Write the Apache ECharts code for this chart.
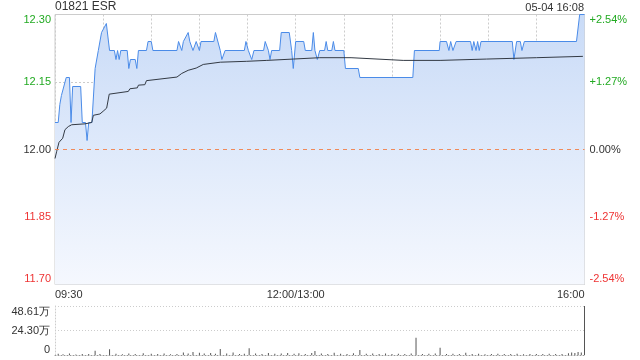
<!DOCTYPE html>
<html><head><meta charset="utf-8">
<script src="https://cdn.jsdelivr.net/npm/echarts@6/dist/echarts.min.js"></script>
<style>html,body{margin:0;padding:0;background:#fff}#c{width:640px;height:360px}</style>
</head><body><div id="c"></div>
<script>
// ---- data ----
const titleText = '01821 ESR';
const dateText = '05-04 16:08';
const timeLabelMinutes = [0, 150, 330];
const timeLabels = ['09:30', '12:00/13:00', '16:00'];
const priceTickLabels = ['11.70', '11.85', '12.00', '12.15', '12.30'];
const pctTickLabels = ['-2.54%', '-1.27%', '0.00%', '+1.27%', '+2.54%'];
const volTickLabels = ['0', '24.30万', '48.61万'];
const prevClose = 12.00;

const priceMinutes = [0,2,3,4,5,7,9,10,11,16,17,19,20,21,23,25,26,27,29,30,32,34,37,38,39,40,41,45,46,47,50,51,52,57,58,60,61,76,77,79,80,83,84,86,88,90,91,99,100,103,104,106,118,119,120.5,122.6,124,130,131,133,134,135,140,141,146,147.5,148.5,150,155,156,160,161,162,163.5,165,168,169,170,172.5,173.5,174.5,180,181,189,190,223,224,239.5,240,244,245.5,246.6,248,250,259,260,261,262.4,263.4,264.4,265.5,285,286,287.7,290,291,292.5,325,327,330];
const prices = [12.06,12.06,12.10,12.12,12.12,12.16,12.16,12.06,12.14,12.14,12.06,12.06,12.02,12.06,12.06,12.18,12.18,12.22,12.26,12.26,12.28,12.22,12.22,12.20,12.22,12.20,12.22,12.22,12.18,12.20,12.20,12.18,12.22,12.22,12.24,12.24,12.22,12.22,12.24,12.22,12.24,12.26,12.24,12.22,12.24,12.22,12.24,12.24,12.26,12.22,12.20,12.22,12.22,12.24,12.22,12.20,12.22,12.22,12.24,12.22,12.20,12.22,12.22,12.26,12.26,12.22,12.18,12.24,12.24,12.22,12.22,12.26,12.22,12.20,12.22,12.22,12.24,12.22,12.22,12.24,12.22,12.22,12.18,12.18,12.16,12.16,12.22,12.22,12.24,12.24,12.22,12.24,12.22,12.24,12.24,12.22,12.24,12.22,12.24,12.22,12.24,12.24,12.20,12.24,12.24,12.22,12.24,12.24,12.30,12.30];

const avgMinutes = [0,1,2.5,4.8,6.2,8.3,10.4,18.7,22.9,23.9,28,30,32.2,33.8,45.7,46.7,51.3,52,56,57,76,79,83,88,92.4,103,119.5,132,148.5,165,184.5,217,240,269,300,329];
const avgPrices = [11.98,11.995,12.016,12.025,12.044,12.051,12.055,12.057,12.06,12.076,12.079,12.085,12.092,12.123,12.129,12.135,12.137,12.143,12.144,12.153,12.161,12.169,12.176,12.181,12.189,12.194,12.196,12.198,12.201,12.204,12.204,12.198,12.198,12.201,12.204,12.207];

const volMinutes = [2,5,9,13,17,21,25,28,34,38,42,46,50,55,60,64,68,72,76,80,83,86,90,93,97,100,103,107,111,115,118,121,125,129,133,137,141,145,149,152,156,160,162,166,170,174,178,182,186,190,194,198,202,206,210,214,218,222,225,229,233,237,240,244,248,252,256,260,264,268,272,276,280,284,288,292,296,300,304,308,312,316,320,322,324,326,328,330];
const volumes = [1.2,0.8,1.5,0.6,1.0,0.9,4.3,1.1,5.7,1.3,0.8,1.6,1.0,1.8,1.2,0.9,1.4,0.7,1.1,2.4,1.5,3.0,2.2,1.4,2.0,1.2,6.0,1.5,2.4,1.0,1.2,6.6,1.4,1.0,2.1,1.3,1.6,2.0,1.2,1.8,1.0,2.0,4.0,1.5,1.0,2.2,1.3,1.1,1.7,5.0,1.2,1.6,1.0,1.4,0.9,1.2,1.0,1.5,17.2,1.0,1.2,1.6,7.2,1.0,1.3,0.9,2.2,1.0,1.3,0.8,1.1,1.2,0.9,1.0,1.3,0.8,1.1,1.0,0.9,1.2,1.0,1.1,1.8,2.6,2.0,3.0,2.4,48.61];

// ---- chart ----
const GREEN = '#22aa22', RED = '#ee3333', DARK = '#333';
const FONT = 'Liberation Sans, Arial, sans-serif';
function tickColor(i) { return i > 2 ? GREEN : (i < 2 ? RED : DARK); }

const chart = echarts.init(document.getElementById('c'), null, {renderer: 'canvas'});
chart.setOption({
  animation: false,
  textStyle: {fontFamily: FONT},
  title: [
    {text: titleText, left: 55, top: 1, padding: 0, textStyle: {fontSize: 12, fontWeight: 'normal', color: DARK, fontFamily: FONT}},
    {text: dateText, right: 56, top: 2, padding: 0, textStyle: {fontSize: 11, fontWeight: 'normal', color: DARK, fontFamily: FONT}}
  ],
  graphic: [{type: 'text', right: 66, top: 273, style: {text: 'sina.com', fill: '#c8c8c8', font: '11px ' + FONT}}],
  grid: [
    {left: 55, right: 55.5, top: 14.5, height: 270, show: true, borderColor: '#cccccc', borderWidth: 1, backgroundColor: 'transparent'},
    {left: 55, right: 55.5, top: 306, height: 49}
  ],
  xAxis: [
    {type: 'value', gridIndex: 0, min: 0, max: 330, interval: 30,
     axisLine: {show: false}, axisTick: {show: false},
     splitLine: {show: true, lineStyle: {color: '#cccccc', type: [2, 2]}},
     axisLabel: {show: true, margin: 5, fontSize: 11, color: DARK, fontFamily: FONT,
       alignMinLabel: 'left', alignMaxLabel: 'right', showMinLabel: true, showMaxLabel: true,
       formatter: function (v) { const k = timeLabelMinutes.indexOf(v); return k >= 0 ? timeLabels[k] : ''; }}},
    {type: 'value', gridIndex: 1, min: 0, max: 330,
     axisLine: {show: true, lineStyle: {color: '#999', type: [1, 2]}}, axisTick: {show: false},
     splitLine: {show: false}, axisLabel: {show: false}}
  ],
  yAxis: [
    {type: 'value', gridIndex: 0, min: 11.7, max: 12.3, interval: 0.15, position: 'left',
     axisLine: {show: false}, axisTick: {show: false},
     splitLine: {show: true, lineStyle: {color: ['#cccccc', '#cccccc', 'rgba(0,0,0,0)', '#cccccc', '#cccccc'], type: [2, 2]}},
     axisLabel: {margin: 4, fontSize: 11, fontFamily: FONT,
       verticalAlignMinLabel: 'bottom', verticalAlignMaxLabel: 'top',
       formatter: function (v, i) { return priceTickLabels[i]; },
       color: function (v, i) { return tickColor(i); }}},
    {type: 'value', gridIndex: 0, min: -2.54, max: 2.54, interval: 1.27, position: 'right',
     axisLine: {show: false}, axisTick: {show: false}, splitLine: {show: false},
     axisLabel: {margin: 5, fontSize: 11, fontFamily: FONT,
       verticalAlignMinLabel: 'bottom', verticalAlignMaxLabel: 'top',
       formatter: function (v, i) { return pctTickLabels[i]; },
       color: function (v, i) { return tickColor(i); }}},
    {type: 'value', gridIndex: 1, min: 0, max: 48.61, interval: 24.305,
     axisLine: {show: true, lineStyle: {color: '#cccccc', type: [1, 2]}}, axisTick: {show: false},
     splitLine: {show: true, lineStyle: {color: '#cccccc', type: [1, 2]}},
     axisLabel: {margin: 5, fontSize: 11, color: DARK, fontFamily: FONT,
       verticalAlignMinLabel: 'bottom', verticalAlignMaxLabel: 'top',
       formatter: function (v, i) { return volTickLabels[i]; }}}
  ],
  series: [
    {type: 'line', xAxisIndex: 0, yAxisIndex: 0, symbol: 'none', silent: true,
     data: priceMinutes.map(function (m, i) { return [m, prices[i]]; }),
     lineStyle: {color: '#4a8be8', width: 1},
     areaStyle: {origin: 'start', opacity: 1, color: new echarts.graphic.LinearGradient(0, 0, 0, 1, [
       {offset: 0, color: '#c9dbf7'}, {offset: 1, color: '#f5f8fe'}])},
     markLine: {silent: true, symbol: ['none', 'none'], label: {show: false}, z: 5,
       emphasis: {disabled: true},
       data: [{yAxis: prevClose, lineStyle: {color: '#f08a5a', type: [4, 4], width: 1, opacity: 1}}]},
     z: 2},
    {type: 'line', xAxisIndex: 0, yAxisIndex: 0, symbol: 'none', silent: true,
     data: avgMinutes.map(function (m, i) { return [m, avgPrices[i]]; }),
     lineStyle: {color: '#333a44', width: 1}, z: 3},
    {type: 'bar', xAxisIndex: 1, yAxisIndex: 2, barWidth: 1, silent: true,
     data: volMinutes.map(function (m, i) { return [m, volumes[i]]; }),
     itemStyle: {color: '#555'}}
  ]
});
</script></body></html>
